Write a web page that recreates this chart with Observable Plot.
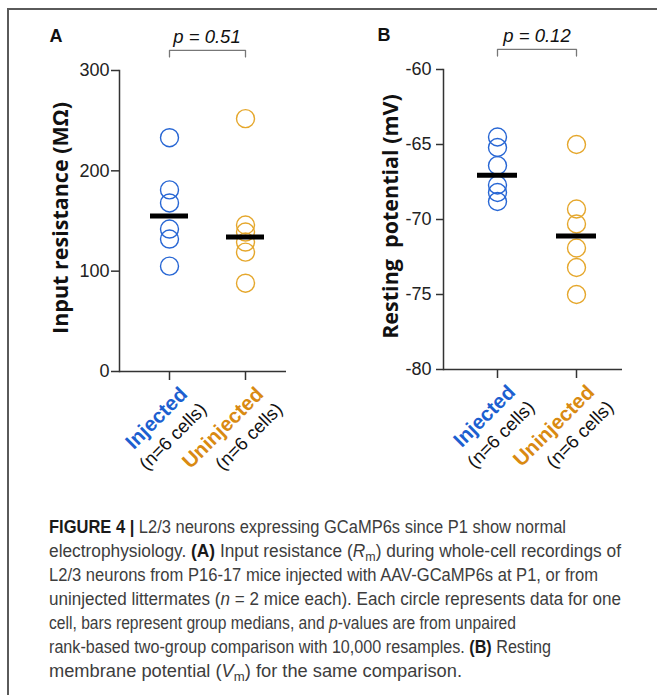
<!DOCTYPE html>
<html><head><meta charset="utf-8">
<script src="https://cdn.jsdelivr.net/npm/d3@7"></script>
<script src="https://cdn.jsdelivr.net/npm/@observablehq/plot@0.6"></script>
<style>
body{margin:0;background:#fff;}
#fig{position:relative;width:657px;height:695px;overflow:hidden;font-family:"Liberation Sans",Arial,sans-serif;background:#fff;}
#frame{position:absolute;left:7px;top:8px;width:700px;height:720px;border-top:2px solid #5a5a5a;border-left:2px solid #5a5a5a;}
#panelA{position:absolute;left:0;top:0;}
#panelB{position:absolute;left:330px;top:0;}
#caption{position:absolute;left:49px;top:517px;width:620px;height:178px;font-family:"Liberation Sans",Arial,sans-serif;font-size:17.5px;color:#3d3d3d;}
.capline{position:absolute;left:0;line-height:20px;white-space:nowrap;}
.capline span{display:inline-block;transform-origin:0 50%;}
.capline b{color:#1a1a1a;}
.capline sub{font-size:0.72em;line-height:0;vertical-align:-0.3em;}
</style>
</head><body>
<div id="fig">
  <div id="frame"></div>
  <div id="panelA"></div>
  <div id="panelB"></div>
  <div id="caption"></div>
</div>
<script>
// ---------- data ----------
const groups = ["Injected", "Uninjected"];
const groupCounts = ["(n=6 cells)", "(n=6 cells)"];
const resistanceInjected = [233, 181, 168, 142, 132, 105];
const resistanceUninjected = [252, 146, 139, 129, 119, 88];
const potentialInjected = [-64.5, -65.2, -66.4, -67.7, -68.2, -68.8];
const potentialUninjected = [-65.0, -69.3, -70.3, -71.9, -73.2, -75.0];
const resistanceTicks = [0, 100, 200, 300];
const potentialTicks = [-80, -75, -70, -65, -60];
const pValues = ["p = 0.51", "p = 0.12"];
const panelLetters = ["A", "B"];
const yLabels = ["Input resistance (MΩ)", "Resting  potential (mV)"];
const captionLines = [
  "<b>FIGURE 4 |</b> L2/3 neurons expressing GCaMP6s since P1 show normal",
  "electrophysiology. <b>(A)</b> Input resistance (<i>R</i><sub>m</sub>) during whole-cell recordings of",
  "L2/3 neurons from P16-17 mice injected with AAV-GCaMP6s at P1, or from",
  "uninjected littermates (<i>n</i> = 2 mice each). Each circle represents data for one",
  "cell, bars represent group medians, and <i>p</i>-values are from unpaired",
  "rank-based two-group comparison with 10,000 resamples. <b>(B)</b> Resting",
  "membrane potential (<i>V</i><sub>m</sub>) for the same comparison."
];

// ---------- styles / layout ----------
const circleColors = ["#2766d4", "#e5a72c"];
const labelColors = ["#1c5fd0", "#d98a12"];
const captionLineWidths = [517, 572, 549, 572, 467, 502, 413];
const captionLineStep = 24;

function panel(o) {
  const rows = [
    ...o.injected.map(v => ({group: groups[0], value: v})),
    ...o.uninjected.map(v => ({group: groups[1], value: v}))
  ];
  const cats = groups.map((g, i) => ({group: g, count: groupCounts[i]}));
  const [lo, hi] = [o.ticks[0], o.ticks[o.ticks.length - 1]];
  const span = hi - lo;
  const bracketLevel = hi + span * 0.067;
  const bracketEnd = hi + span * 0.045;
  const bracket = [
    {group: groups[0], y: bracketEnd}, {group: groups[0], y: bracketLevel},
    {group: groups[1], y: bracketLevel}, {group: groups[1], y: bracketEnd}
  ];
  const marks = [
    Plot.ruleY([lo], {stroke: "#333", strokeWidth: 1.5}),
    Plot.frame({anchor: "left", stroke: "#333", strokeWidth: 1.5}),
    Plot.axisY({ticks: o.ticks, tickSize: o.tickSize, tickPadding: o.tickPadding, fontSize: 18,
      label: null, tickFormat: d => String(d), stroke: "#333", strokeWidth: 1.5, fill: "#222"}),
    Plot.axisX({ticks: groups, tickSize: 9, tickFormat: () => "", label: null,
      stroke: "#333", strokeWidth: 1.5}),
    Plot.line(bracket, {x: "group", y: "y", stroke: "#777", strokeWidth: 1.3}),
    Plot.text([o.p], {frameAnchor: "top", lineAnchor: "bottom", dx: 4, dy: -28,
      fontSize: 18.5, fontStyle: "italic", fill: "#111"}),
    Plot.text([o.letter], {frameAnchor: "top-left", textAnchor: "start", lineAnchor: "bottom",
      dx: o.letterDx, dy: -29, fontSize: 18, fontWeight: "bold", fill: "#111"}),
    Plot.text([o.label], {frameAnchor: "left", rotate: -90, textAnchor: "middle", lineAnchor: "bottom",
      dx: o.labelDx, dy: -3, fontSize: 21.5, fontWeight: "bold", fontFamily: "Open Sans", fill: "#111"}),
  ];
  groups.forEach((g, i) => {
    marks.push(Plot.dot(rows.filter(d => d.group === g), {x: "group", y: "value", r: 9,
      stroke: circleColors[i], strokeWidth: 1.4, fill: "none"}));
    marks.push(Plot.text([cats[i]], {x: "group", y: () => lo, text: "group", rotate: -45,
      textAnchor: "end", lineAnchor: "bottom", dx: 19, dy: 24, fontSize: 20.5, fontWeight: "bold",
      fill: labelColors[i]}));
    marks.push(Plot.text([cats[i]], {x: "group", y: () => lo, text: "count", rotate: -45,
      textAnchor: "end", lineAnchor: "bottom", dx: 38, dy: 39, fontSize: 18.5, fill: "#111"}));
  });
  marks.push(Plot.tickY(rows, Plot.groupX({y: "median"}, {x: "group", y: "value",
    stroke: "#000", strokeWidth: 5})));
  return Plot.plot({
    width: o.width, height: o.height,
    marginLeft: o.ml, marginRight: o.mr, marginTop: o.mt, marginBottom: o.mb,
    style: {fontFamily: "Liberation Sans, Arial, sans-serif", background: "transparent", overflow: "visible"},
    x: {type: "band", domain: groups, paddingInner: 0.5, paddingOuter: 0, align: 0.5,
        insetLeft: o.il, insetRight: o.ir},
    y: {domain: [lo, hi]},
    marks
  });
}

document.getElementById("panelA").append(panel({
  injected: resistanceInjected, uninjected: resistanceUninjected, ticks: resistanceTicks,
  p: pValues[0], letter: panelLetters[0], label: yLabels[0],
  width: 330, height: 470, ml: 119, mr: 44, mt: 70, mb: 99, il: 31, ir: 22,
  labelDx: -52, letterDx: -70, tickSize: 8, tickPadding: 2
}));
document.getElementById("panelB").append(panel({
  injected: potentialInjected, uninjected: potentialUninjected, ticks: potentialTicks,
  p: pValues[1], letter: panelLetters[1], label: yLabels[1],
  width: 327, height: 470, ml: 113, mr: 35, mt: 69, mb: 101, il: 34, ir: 26,
  labelDx: -46, letterDx: -66, tickSize: 7, tickPadding: 5
}));

const cap = document.getElementById("caption");
captionLines.forEach((html, i) => {
  const line = document.createElement("div");
  line.className = "capline";
  line.style.top = (i * captionLineStep) + "px";
  const s = document.createElement("span");
  s.innerHTML = html;
  line.append(s);
  cap.append(line);
  const w = s.getBoundingClientRect().width;
  s.style.transform = `scaleX(${captionLineWidths[i] / w})`;
});
</script>
</body></html>
